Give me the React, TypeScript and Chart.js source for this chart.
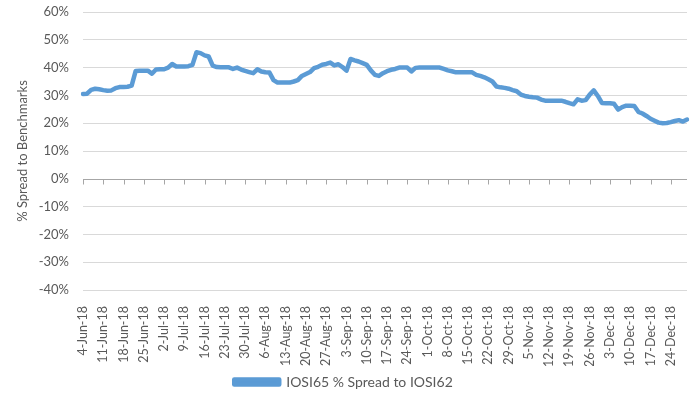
import React, { useEffect, useRef } from "react";
import { Chart, registerables } from "chart.js";

Chart.register(...registerables);

// Monday tick labels (one per week)
const weekLabels = [
  "4-Jun-18", "11-Jun-18", "18-Jun-18", "25-Jun-18", "2-Jul-18", "9-Jul-18",
  "16-Jul-18", "23-Jul-18", "30-Jul-18", "6-Aug-18", "13-Aug-18", "20-Aug-18",
  "27-Aug-18", "3-Sep-18", "10-Sep-18", "17-Sep-18", "24-Sep-18", "1-Oct-18",
  "8-Oct-18", "15-Oct-18", "22-Oct-18", "29-Oct-18", "5-Nov-18", "12-Nov-18",
  "19-Nov-18", "26-Nov-18", "3-Dec-18", "10-Dec-18", "17-Dec-18", "24-Dec-18",
];
const weekdayNames = ["Mon", "Tue", "Wed", "Thu", "Fri"];

// daily (weekday) spread values, %
const spreadValues = [
  30.5, 30.6, 32.0, 32.4, 32.2, 31.9, 31.7, 31.8, 32.6, 33.0,
  33.0, 33.1, 33.5, 38.8, 38.9, 38.9, 38.9, 37.8, 39.3, 39.4,
  39.4, 40.0, 41.3, 40.4, 40.4, 40.4, 40.5, 41.0, 45.5, 45.2,
  44.4, 44.0, 40.7, 40.2, 40.1, 40.1, 40.1, 39.5, 40.0, 39.3,
  38.8, 38.4, 38.0, 39.4, 38.6, 38.3, 38.2, 35.5, 34.6, 34.6,
  34.6, 34.6, 35.0, 35.5, 37.0, 37.7, 38.4, 39.8, 40.3, 41.0,
  41.3, 41.8, 40.8, 41.2, 40.2, 38.9, 43.1, 42.6, 42.2, 41.6,
  41.0, 39.0, 37.4, 37.0, 38.0, 38.7, 39.2, 39.5, 40.0, 40.0,
  40.0, 38.6, 39.9, 40.0, 40.0, 40.0, 40.0, 40.0, 40.0, 39.5,
  39.0, 38.7, 38.3, 38.3, 38.3, 38.3, 38.3, 37.4, 37.0, 36.5,
  35.8, 35.0, 33.2, 32.9, 32.7, 32.4, 31.9, 31.5, 30.3, 29.8,
  29.5, 29.3, 29.2, 28.5, 28.1, 28.1, 28.1, 28.1, 28.1, 27.7,
  27.2, 26.8, 28.6, 28.1, 28.3, 30.3, 31.8, 29.8, 27.3, 27.2,
  27.2, 27.0, 24.9, 25.8, 26.3, 26.3, 26.2, 24.1, 23.5, 22.6,
  21.6, 20.9, 20.2, 20.0, 20.1, 20.4, 20.8, 21.1, 20.6, 21.3,
];

const yMin = -40;
const yMax = 60;
const yStep = 10;

const seriesName = "IOSI65 % Spread to IOSI62";
const yTitle = "% Spread to Benchmarks";

const FONT = "Lato, 'Open Sans', sans-serif";
const TEXT = "#595959";
const BLUE = "#5B9BD5";

export default function App() {
  const ref = useRef<HTMLCanvasElement | null>(null);

  useEffect(() => {
    document.body.style.margin = "0";
    const labels: string[] = [];
    weekLabels.forEach((w) => {
      weekdayNames.forEach((d, i) => labels.push(i === 0 ? w : w + " " + d));
    });
    const zeroLine = {
      id: "zeroLine",
      beforeDatasetsDraw(chart: any) {
        const { ctx, chartArea, scales } = chart;
        const y = Math.round(scales.y.getPixelForValue(0)) + 0.5;
        ctx.save();
        ctx.strokeStyle = "#a6a6a6";
        ctx.lineWidth = 1;
        ctx.beginPath();
        ctx.moveTo(chartArea.left, y);
        ctx.lineTo(chartArea.right, y);
        scales.x.ticks.forEach((t: any) => {
          const x = Math.round(scales.x.getPixelForValue(t.value)) + 0.5;
          ctx.moveTo(x, y);
          ctx.lineTo(x, y + 5);
        });
        ctx.stroke();
        ctx.restore();
      },
    };
    const chart = new Chart(ref.current as HTMLCanvasElement, {
      type: "line",
      data: {
        labels,
        datasets: [
          {
            label: seriesName,
            data: spreadValues,
            borderColor: BLUE,
            backgroundColor: BLUE,
            borderWidth: 4.5,
            pointRadius: 0,
            tension: 0,
            borderJoinStyle: "round",
            borderCapStyle: "round",
          },
        ],
      },
      plugins: [zeroLine],
      options: {
        animation: false,
        responsive: false,
        layout: { padding: { left: 0, right: 10, top: 12, bottom: 6 } },
        plugins: {
          legend: {
            position: "bottom",
            labels: {
              boxWidth: 45,
              boxHeight: 5,
              color: TEXT,
              font: { family: FONT, size: 14 },
              padding: 9,
            },
          },
          tooltip: { enabled: false },
        },
        scales: {
          x: {
            type: "category",
            offset: false,
            afterBuildTicks(scale: any) {
              scale.ticks = scale.ticks.filter((t: any) => t.value % 5 === 0);
            },
            afterFit(scale: any) {
              scale.height = 76;
            },
            grid: { display: false },
            border: { display: false },
            ticks: {
              autoSkip: false,
              minRotation: 90,
              maxRotation: 90,
              padding: 8,
              color: TEXT,
              font: { family: FONT, size: 12.5 },
              callback(value: any) {
                return weekLabels[Math.round(Number(value) / 5)];
              },
            },
          },
          y: {
            min: yMin,
            max: yMax,
            afterFit(scale: any) {
              scale.width = 83;
              scale.paddingTop = 0;
              scale.paddingBottom = 0;
            },
            border: { display: false },
            grid: {
              color: (c: any) => (c.tick && c.tick.value === 0 ? "rgba(0,0,0,0)" : "#d9d9d9"),
              drawTicks: false,
            },
            ticks: {
              stepSize: yStep,
              padding: 14,
              color: TEXT,
              font: { family: FONT, size: 13 },
              callback: (v: any) => v + "%",
            },
            title: {
              display: true,
              text: yTitle,
              color: TEXT,
              font: { family: FONT, size: 13 },
              padding: { top: 15, bottom: 0 },
            },
          },
        },
      },
    } as any);
    return () => chart.destroy();
  }, []);

  return (
    <div style={{ width: 697, height: 405 }}>
      <canvas ref={ref} width={697} height={405} style={{ display: "block" }} />
    </div>
  );
}
